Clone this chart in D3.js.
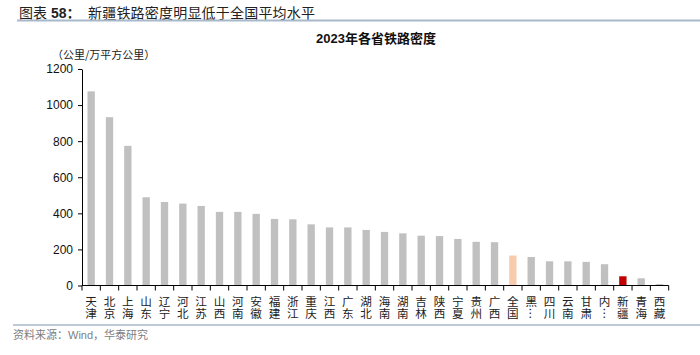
<!DOCTYPE html>
<html><head><meta charset="utf-8">
<script src="https://cdn.jsdelivr.net/npm/d3@7/dist/d3.min.js"></script>
<style>
body{margin:0;background:#fff;}
svg{display:block;}
</style></head>
<body>
<script>
const categories = ["天津","北京","上海","山东","辽宁","河北","江苏","山西","河南","安徽","福建","浙江","重庆","江西","广东","湖北","海南","湖南","吉林","陕西","宁夏","贵州","广西","全国","黑龙江","四川","云南","甘肃","内蒙古","新疆","青海","西藏"];
const tickLabels = ["天津","北京","上海","山东","辽宁","河北","江苏","山西","河南","安徽","福建","浙江","重庆","江西","广东","湖北","海南","湖南","吉林","陕西","宁夏","贵州","广西","全国","黑…","四川","云南","甘肃","内…","新疆","青海","西藏"];
const values = [1076,933,774,489,463,454,441,408,408,397,369,367,339,322,322,308,297,289,276,274,258,242,240,166,158,134,134,131,118,51,40,8];
const yTicks = [0,200,400,600,800,1000,1200];
const highlightNational = "全国";
const highlightXinjiang = "新疆";

const W = 700, H = 355;
const svg = d3.select("body").append("svg").attr("width", W).attr("height", H);
const cjk = "'Noto Sans CJK SC', sans-serif";
const latin = "'Liberation Sans', Arial, sans-serif";

// Header
const title = svg.append("text").attr("x", 19).attr("y", 18).attr("font-size", 14).attr("fill", "#222");
title.append("tspan").attr("font-family", cjk).text("图表");
title.append("tspan").attr("font-family", latin).attr("font-weight", "bold").text(" 58");
title.append("tspan").attr("font-family", cjk).attr("font-weight", "bold").text("：");
title.append("tspan").attr("x", 88).attr("font-family", cjk).attr("letter-spacing", 0.2).text("新疆铁路密度明显低于全国平均水平");
svg.append("line").attr("x1", 17).attr("x2", 700).attr("y1", 20.5).attr("y2", 20.5)
  .attr("stroke", "#A8B9CC").attr("stroke-width", 2);

// Chart title
const ct = svg.append("text").attr("x", 376).attr("y", 43).attr("text-anchor", "middle")
  .attr("font-size", 13).attr("font-weight", "bold").attr("fill", "#111");
ct.append("tspan").attr("font-family", latin).text("2023");
ct.append("tspan").attr("font-family", cjk).text("年各省铁路密度");

// Unit
svg.append("text").attr("x", 52).attr("y", 58.5).attr("font-family", cjk).attr("font-size", 11)
  .attr("fill", "#222").text("（公里/万平方公里）");

// Scales
const x = d3.scaleBand().domain(categories).range([82, 668.7]).paddingInner(0.6).paddingOuter(0.3);
const y = d3.scaleLinear().domain([0, 1200]).range([285.5, 69]);

// Bars
svg.append("g").selectAll("rect").data(categories).join("rect")
  .attr("x", d => x(d))
  .attr("width", x.bandwidth())
  .attr("y", (d, i) => y(values[i]))
  .attr("height", (d, i) => y(0) - y(values[i]))
  .attr("fill", d => d === highlightXinjiang ? "#C00000" : (d === highlightNational ? "#F8CBAD" : "#C0C0C0"));

// Y axis
const yAxis = svg.append("g").attr("transform", "translate(82,0)")
  .call(d3.axisLeft(y).tickValues(yTicks).tickFormat(d3.format("d")).tickSize(4).tickSizeOuter(0).tickPadding(5));
yAxis.select(".domain").attr("stroke", "#000");
yAxis.selectAll(".tick line").attr("stroke", "#000");
yAxis.selectAll("text").attr("font-family", latin).attr("font-size", 12).attr("fill", "#111");

// X axis line and boundary ticks
const step = x.step();
const x0 = x.range()[0];
const boundaries = d3.range(categories.length + 1);
const xg = svg.append("g");
xg.append("line").attr("x1", x0).attr("x2", x.range()[1]).attr("y1", y(0)).attr("y2", y(0)).attr("stroke", "#000");
xg.selectAll("line.tk").data(boundaries).join("line").attr("class", "tk")
  .attr("x1", i => x0 + i * step).attr("x2", i => x0 + i * step)
  .attr("y1", y(0)).attr("y2", y(0) + 5).attr("stroke", "#000");

// X labels (vertical text)
const lg = svg.append("g").attr("font-family", cjk).attr("font-size", 11.6).attr("fill", "#222");
lg.selectAll("text").data(categories).join("text")
  .style("writing-mode", "vertical-rl")
  .attr("text-anchor", "start")
  .attr("x", d => x(d) + x.bandwidth() / 2)
  .attr("y", 296)
  .text((d, i) => tickLabels[i]);

// Footer
svg.append("line").attr("x1", 13).attr("x2", 700).attr("y1", 325).attr("y2", 325)
  .attr("stroke", "#A8B9CC").attr("stroke-width", 1.5);
const ft = svg.append("text").attr("x", 13).attr("y", 339).attr("font-size", 11).attr("fill", "#808080");
ft.append("tspan").attr("font-family", cjk).text("资料来源：");
ft.append("tspan").attr("font-family", latin).text("Wind");
ft.append("tspan").attr("font-family", cjk).text("，华泰研究");
</script>
</body></html>
